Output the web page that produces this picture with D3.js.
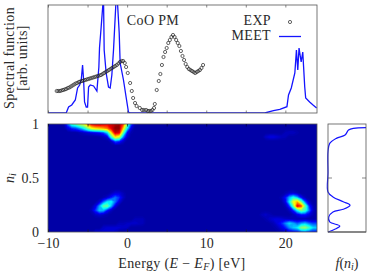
<!doctype html>
<html>
<head>
<meta charset="utf-8">
<script src="https://cdn.jsdelivr.net/npm/d3@7"></script>
<style>
    body { margin: 0; background: #fff; }
    svg { display: block; }
    text { font-family: "Liberation Serif", serif; fill: #2a2a2a; }
</style>
</head>
<body>
<svg width="373" height="276"></svg>
<script>
// Experiment (open circles)
var expE = [-8.9,-8.7,-8.5,-8.3,-8.1,-7.9,-7.7,-7.5,-7.3,-7.1,-6.9,-6.7,-6.5,-6.3,-6.1,-5.9,-5.7,-5.5,-5.3,-5.1,-4.9,-4.7,-4.5,-4.3,-4.1,-3.9,-3.7,-3.5,-3.3,-3.1,-2.9,-2.7,-2.5,-2.3,-2.1,-1.9,-1.7,-1.5,-1.3,-1.1,-0.9,-0.7,-0.5,-0.3,-0.13,0.08,0.38,0.59,0.76,1.0,1.2,1.6,1.9,2.1,2.4,2.6,2.8,3.0,3.2,3.4,3.5,3.74,4.0,4.2,4.4,4.6,4.8,5.0,5.2,5.4,5.6,5.8,6.0,6.2,6.4,6.6,6.8,7.0,7.2,7.4,7.6,7.8,8.0,8.2,8.4,8.6,8.8,9.0,9.2,9.4,9.6];
var expV = [22,22,22,22.5,23,23.5,24,25,25.5,26.5,27.5,28.5,29.5,30,31,31.5,32,32.5,33,33.5,34,34.5,35,35.5,36,36.5,37,37.5,38,39,40,41,42,43,44,45,46,47,48,49.5,51,52,52,50,46,40,30,22,15,10,7,5,3,3,3,2,2,2,3,5,9,23,32,39,48,56,61,65,70,73,76,78,76,73,70,67,62,57,53,49,46,44,43,42,41,40,41,42,43,45,48];

// MEET spectrum
var meetE = [-10,-7.7,-7.4,-7.0,-6.55,-6.26,-6.0,-5.8,-5.63,-5.5,-5.38,-5.17,-5.0,-4.87,-4.66,-4.24,-3.82,-3.57,-3.49,-3.28,-3.07,-3.0,-2.9,-2.65,-2.35,-2.14,-1.93,-1.72,-1.43,-1.3,-1.2,-1.0,-0.88,-0.46,-0.13,0.17,0.38,2,6,10,14,17.4,18.5,19.3,20.2,20.4,20.75,21.2,21.4,21.57,21.73,22.0,22.2,22.45,22.57,23.07,23.5,23.95];
var meetV = [0,0,6,8,13,25,28,33,48,33,11,6,6,26,28,27,22,46,65,86,108,125,63,40,26,25,38,63,108,125,108,80,50,33,16,1,0,0,0,0,0,0,2.3,3.7,6.3,18,25,40,63,43,65,51,61,26,15,11,8,5];

// Heatmap: rows of estimated weight (0..100), each row piece starts at energy heatE and lies at heatN
var heatN = [1,.96,.92,.88,.84,
    .36,.32,.28,.24,.2,.16,
    .12,.08,.04,0,
    .92,.88,
    .36,.32,.28,.24,.2,.16,
    .16,.12,.08,.04,0];
var heatE = [-8,-8,-8,-8,-8,
    -4.5,-4.5,-4.5,-4.5,-4.5,-4.5,
    1,-1,-3,-4,
    20,17.5,
    19.5,19.5,19.5,19.5,19.5,19.5,
    16.5,16.5,16.5,16.5,16.5];
var heatV = [
    [3,22,42,48,58,64,78,92,96,96,94,92,94,96,98,85,50,20,3],
    [0,8,15,18,25,35,50,65,70,72,75,80,92,100,100,72,35,8,0],
    [0,0,0,0,2,4,6,8,10,12,18,32,68,95,92,48,12,2,0],
    [0,0,0,0,0,0,0,0,0,1,3,8,40,68,60,24,5,0,0],
    [0,0,0,0,0,0,0,0,0,0,0,0,5,20,16,6,0,0,0],
    [0,0,0,0,0,3,7,7,3],
    [0,0,0,2,6,14,22,16,5],
    [0,1,6,20,33,35,22,8,1],
    [1,8,26,46,48,28,8,1,0],
    [4,16,30,28,13,4,0,0,0],
    [1,4,6,4,2,0,0,0,0],
    [3,3,3],
    [3,3,4,5,5,4,3],
    [5,6,6,6,6,5,4],
    [6,6,6,6,6,5],
    [3,4,4,2],
    [5,8,8,6,4,3],
    [0,2,5,6,3,0,0,0,0,0],
    [3,12,28,38,28,12,3,0,0,0],
    [1,9,34,64,74,50,20,5,0,0],
    [0,3,16,48,92,84,48,16,3,0],
    [0,0,4,15,34,50,42,22,5,0],
    [0,0,0,3,8,13,13,8,3,0],
    [0,3,5,3,1],
    [0,0,2,5,7,8,7,5,4,3,2,2,2,1,1,1],
    [0,0,0,1,3,8,14,24,32,27,20,25,28,22,18,18],
    [0,0,0,0,1,3,8,14,24,30,34,52,54,44,32,30],
    [0,0,0,0,0,1,3,5,8,10,12,18,20,16,12,12]
];
var heatStops = [0,11,34,50,66,89,100];
var heatColors = ["#0000a6","#0000ff","#00ffff","#80ff80","#ffff00","#ff0000","#800000"];

// Side panel f(n_i)
var sideN = [0,.025,.056,.093,.14,.186,.21,.248,.28,.325,.37,.55,.743,.82,.867,.898,.944,.96,.966];
var sideF = [0,.18,.31,.045,.02,.13,.4,.58,.4,.13,0,0,0,.045,.22,.45,.54,.67,1];

var xTicks = [-10,-5,0,5,10,15,20];
var xLabels = [-10,0,10,20];
var nTicks = [0,.5,1];

var svg = d3.select("svg");
var left = 48, right = 317, topA = 5, botA = 113, topB = 124, botB = 232, sideL = 328, sideR = 366;
var grey = "#555";
var blue = "#1414ff";
var fontSize = "14px", subSize = "10px", spread = ".35px";

var xScale = d3.scaleLinear().domain([-10,24]).range([left,right]);
var yScale = d3.scaleLinear().domain([0,108]).range([botA,topA]);
var nScale = d3.scaleLinear().domain([0,1]).range([botB,topB]);
var fScale = d3.scaleLinear().domain([0,1]).range([sideL,sideR]);

var defs = svg.append("defs");
defs.append("clipPath").attr("id","clipA").append("rect")
    .attr("x",left).attr("y",topA).attr("width",right-left).attr("height",botA-topA);
defs.append("clipPath").attr("id","clipB").append("rect")
    .attr("x",left).attr("y",topB).attr("width",right-left).attr("height",botB-topB);
defs.append("filter").attr("id","soft").attr("x","-5%").attr("y","-5%").attr("width","110%").attr("height","110%")
    .append("feGaussianBlur").attr("stdDeviation",.7);

// heatmap grid, empty cells stay at 0
var stepE = .5, stepN = .04, nx = 69, ny = 26;
var grid = new Array(nx*ny).fill(0);
heatV.forEach(function(vals,k) {
    var j = Math.round((1-heatN[k])/stepN);
    vals.forEach(function(v,m) {
        var i = Math.round((heatE[k]+10)/stepE)+m;
        if (i < nx) grid[j*nx+i] = Math.max(grid[j*nx+i],v);
    });
});

var color = d3.scaleLinear().domain(heatStops).range(heatColors);
var thresholds = d3.range(1,100,1.5);
var contours = d3.contours().size([nx,ny]).thresholds(thresholds)(grid);
var heatPath = d3.geoPath(d3.geoTransform({
    point: function(x,y) {
        this.stream.point(xScale(-10+(x-.5)*stepE), nScale(1-(y-.5)*stepN));
    }
}));

var heat = svg.append("g").attr("clip-path","url(#clipB)").append("g").attr("filter","url(#soft)");
heat.append("rect").attr("x",left-10).attr("y",topB-10)
    .attr("width",right-left+20).attr("height",botB-topB+20).attr("fill",color(0));
heat.selectAll("path").data(contours).enter().append("path")
    .attr("d",heatPath)
    .attr("fill",function(d) { return color(d.value); });

// top panel curves
var line = d3.line()
    .x(function(d) { return xScale(d[0]); })
    .y(function(d) { return yScale(d[1]); });

svg.append("path")
    .datum(d3.zip(meetE,meetV))
    .attr("clip-path","url(#clipA)")
    .attr("d",line)
    .attr("fill","none").attr("stroke",blue).attr("stroke-width",1.3);

svg.append("g").selectAll("circle")
    .data(d3.zip(expE,expV))
    .enter().append("circle")
    .attr("cx",function(d) { return xScale(d[0]); })
    .attr("cy",function(d) { return yScale(d[1]); })
    .attr("r",1.6)
    .attr("fill","none").attr("stroke","#222").attr("stroke-width",.7);

// frames and axes
function frame(x0,y0,x1,y1) {
    svg.append("rect").attr("x",x0).attr("y",y0).attr("width",x1-x0).attr("height",y1-y0)
        .attr("fill","none").attr("stroke",grey).attr("stroke-width",.8);
}
frame(left,topA,right,botA);
frame(left,topB,right,botB);

function xAxis(y,axis) {
    var g = svg.append("g").attr("transform","translate(0,"+y+")")
        .call(axis(xScale).tickValues(xTicks).tickSizeOuter(0).tickSizeInner(-2.5).tickFormat(""));
    g.select(".domain").remove();
    g.selectAll("line").attr("stroke",grey).attr("stroke-width",.7);
    return g;
}
xAxis(botA,d3.axisBottom);
xAxis(topA,d3.axisTop);
xAxis(topB,d3.axisTop).selectAll("line").attr("stroke","#003");
xAxis(botB,d3.axisBottom).selectAll("line").attr("stroke","#222");

var xLab = svg.append("g").attr("transform","translate(0,"+botB+")")
    .call(d3.axisBottom(xScale).tickValues(xLabels).tickSize(0).tickPadding(6)
        .tickFormat(function(d) { return String(d).replace("-","\u2212"); }));
xLab.select(".domain").remove();
xLab.selectAll("text").style("font-family","'Liberation Serif', serif").style("font-size",fontSize).attr("fill","#2a2a2a");

var nLab = svg.append("g").attr("transform","translate("+left+",0)")
    .call(d3.axisLeft(nScale).tickValues(nTicks).tickSize(0).tickPadding(9)
        .tickFormat(function(d) { return d; }));
nLab.select(".domain").remove();
nLab.selectAll("text").style("font-family","'Liberation Serif', serif").style("font-size",fontSize).attr("fill","#2a2a2a");

// side panel
svg.append("path")
    .datum(d3.zip(sideF,sideN))
    .attr("d",d3.line().x(function(d) { return fScale(d[0]); }).y(function(d) { return nScale(d[1]); }).curve(d3.curveCatmullRom))
    .attr("fill","none").attr("stroke",blue).attr("stroke-width",1.2);
frame(sideL,topB,sideR,botB);
svg.append("line").attr("x1",sideL).attr("x2",sideR).attr("y1",botB).attr("y2",botB)
    .attr("stroke",grey).attr("stroke-width",1.2);
svg.append("line").attr("x1",sideL).attr("x2",sideL+4).attr("y1",nScale(.5)).attr("y2",nScale(.5)).attr("stroke",grey).attr("stroke-width",.7);
svg.append("line").attr("x1",sideR-4).attr("x2",sideR).attr("y1",nScale(.5)).attr("y2",nScale(.5)).attr("stroke",grey).attr("stroke-width",.7);

// labels
function label(x,y,str,anchor,rot) {
    var t = svg.append("text").attr("text-anchor",anchor||"middle").style("font-size",fontSize).style("letter-spacing",spread);
    if (rot) t.attr("transform","translate("+x+","+y+")rotate(-90)");
    else t.attr("x",x).attr("y",y);
    t.text(str);
    return t;
}
label(14,58,"Spectral function","middle",true);
label(27,58,"[arb. units]","middle",true);
label(153,25,"CoO PM");
label(271,25,"EXP","end");
label(271,40,"MEET","end");

svg.append("circle").attr("cx",290).attr("cy",22).attr("r",1.6)
    .attr("fill","none").attr("stroke","#222").attr("stroke-width",.7);
svg.append("line").attr("x1",279).attr("x2",301).attr("y1",36.5).attr("y2",36.5)
    .attr("stroke",blue).attr("stroke-width",1.3);

var nLabel = svg.append("text").attr("text-anchor","middle").style("font-size",fontSize)
    .attr("transform","translate(14,178)rotate(-90)");
nLabel.append("tspan").style("font-style","italic").text("n");
nLabel.append("tspan").style("font-style","italic").style("font-size",subSize).attr("dy",2).text("i");

var eLabel = svg.append("text").attr("x",182).attr("y",268).attr("text-anchor","middle").style("font-size",fontSize).style("letter-spacing",spread);
eLabel.append("tspan").text("Energy (");
eLabel.append("tspan").style("font-style","italic").text("E");
eLabel.append("tspan").text(" \u2212 ");
eLabel.append("tspan").style("font-style","italic").text("E");
eLabel.append("tspan").style("font-style","italic").style("font-size",subSize).attr("dy",2).text("F");
eLabel.append("tspan").attr("dy",-2).text(") [eV]");

var fLabel = svg.append("text").attr("x",347).attr("y",268).attr("text-anchor","middle").style("font-size",fontSize);
fLabel.append("tspan").style("font-style","italic").text("f");
fLabel.append("tspan").text("(");
fLabel.append("tspan").style("font-style","italic").text("n");
fLabel.append("tspan").style("font-style","italic").style("font-size",subSize).attr("dy",2).text("i");
fLabel.append("tspan").attr("dy",-2).text(")");
</script>
</body>
</html>
